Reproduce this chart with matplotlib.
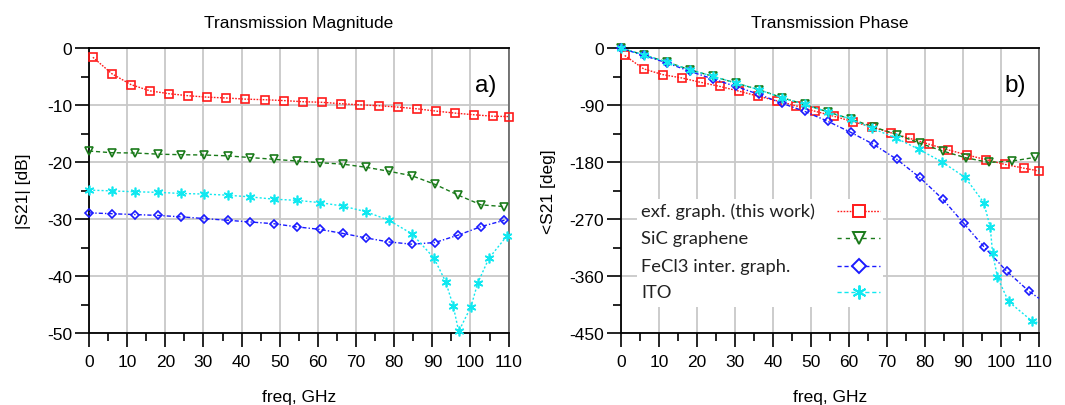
import numpy as np
import matplotlib
matplotlib.use("Agg")
import matplotlib.pyplot as plt
from matplotlib.ticker import MultipleLocator
from matplotlib.patches import Rectangle

plt.rcParams['font.family'] = ['Liberation Sans', 'DejaVu Sans']
plt.rcParams['axes.unicode_minus'] = False

# --- data ---
# exf. graph. (red)
f_red = [1, 6, 11, 16, 21, 26, 31, 36, 41, 46, 51, 56, 61, 66, 71, 76, 81, 86, 91, 96, 101, 106, 110]
mag_red = [-1.6, -4.5, -6.4, -7.5, -8.0, -8.35, -8.6, -8.75, -8.95, -9.05, -9.2, -9.4,
           -9.5, -9.75, -9.95, -10.1, -10.35, -10.65, -11.05, -11.4, -11.7, -11.95, -12.0]
ph_red = [-11.6, -32.8, -41.8, -47.1, -54, -60.4, -67.8, -75.7, -83.1, -91, -99.5, -107.5,
          -116, -124.5, -133.5, -142.5, -151.5, -160.5, -168.5, -176, -183.5, -189.5, -194]

# SiC graphene (green)
f_grn = [0, 6, 12.1, 18.1, 24.2, 30.2, 36.3, 42.3, 48.4, 54.4, 60.5, 66.5, 72.6, 78.6, 84.7, 90.7, 96.8, 102.8, 108.9]
mag_grn = [-18.05, -18.35, -18.4, -18.6, -18.7, -18.75, -18.9, -19.2, -19.5, -19.8, -20.1,
           -20.35, -20.9, -21.6, -22.4, -23.9, -25.8, -27.5, -27.8]
ph_grn = [0, -10.6, -22, -34, -44.5, -55, -65.6, -78, -89, -100.6, -112, -124.4, -136.5,
          -150, -162.5, -173, -180.5, -178.5, -172.5]

# FeCl3 inter. graph. (blue)
f_blu = [0, 6, 12.1, 18.1, 24.2, 30.2, 36.3, 42.3, 48.4, 54.4, 60.5, 66.5, 72.6, 78.6, 84.7, 90.7, 96.8, 102.8, 108.9]
mag_blu = [-28.9, -29.05, -29.2, -29.35, -29.6, -29.9, -30.2, -30.5, -30.8, -31.35, -31.8,
           -32.5, -33.3, -34.0, -34.4, -34.1, -32.8, -31.3, -30.2]
f_blu_ph = [0, 6, 12.1, 18.1, 24.2, 30.2, 36.3, 42.3, 48.4, 54.4, 60.5, 66.5, 72.6, 78.6, 84.7, 90.2, 95.5, 101.5, 107.4, 110]
ph_blu = [0, -11.6, -23.3, -36.5, -48.7, -60.4, -73, -86.8, -100, -115.4, -133, -152,
          -175.5, -204, -238.5, -276.5, -313.5, -352, -384, -395]

# ITO (cyan)
f_ito = [0, 6, 12.1, 18.1, 24.2, 30.2, 36.3, 42.3, 48.4, 54.4, 60.5, 66.5, 72.6, 78.6, 84.7,
         90.4, 93.5, 95.5, 96.9, 100.1, 101.9, 104.8, 109.6]
mag_ito = [-24.9, -25.05, -25.2, -25.3, -25.5, -25.6, -25.8, -26.1, -26.5, -26.7, -27.1,
           -27.7, -28.7, -30.2, -32.6, -36.8, -41.0, -45.3, -49.7, -45.4, -41.2, -36.9, -32.9]
f_ito_ph = [0, 6, 12.1, 18.1, 24.2, 30.2, 36.3, 42.3, 48.4, 54.4, 60.5, 66, 72.4, 78.5, 84.6,
            90.6, 95.5, 97.2, 97.8, 99.1, 102, 108.1, 110]
ph_ito = [0, -10.6, -22, -34, -44.5, -55, -65.6, -78, -89, -100.6, -112, -126.3, -142, -160,
          -180, -204.2, -244, -283, -323, -362, -400, -430.5, -434]

labels = ["exf. graph. (this work)", "SiC graphene", "FeCl3 inter. graph.", "ITO"]
colors = ["#ff1a1a", "#1a7a1a", "#1a1aff", "#10e8f0"]
markers = ["s", "v", "D", (6, 2, 0)]
msizes = [5.3, 5.5, 3.8, 7]          # markers on the curves
leg_msizes = [8.5, 8.5, 7, 10]     # markers in the legend
styles = [(0, (1.2, 1.0)), (0, (3, 2)), (0, (3, 1.5, 1, 1.5)), (0, (1.5, 1.5))]
leg_styles = [(0, (1.2, 1.0)), (0, (3, 3)), (0, (3, 2)), (0, (3, 2))]

fig = plt.figure(figsize=(10.65, 4.06), dpi=100)
ax1 = fig.add_axes([0.0836, 0.177, 0.394, 0.702])
ax2 = fig.add_axes([0.583, 0.177, 0.3925, 0.702])

FS = 12.5


def style_axes(ax, ymin, ystep, title, ylabel, ylab_x, tag):
    ax.set_xlim(0, 110)
    ax.set_ylim(ymin, 0)
    ax.xaxis.set_major_locator(MultipleLocator(10))
    ax.xaxis.set_minor_locator(MultipleLocator(5))
    ax.yaxis.set_major_locator(MultipleLocator(ystep))
    ax.yaxis.set_minor_locator(MultipleLocator(ystep / 2))
    ax.grid(True, which='major', color='#c8c8c8', lw=1.3, zorder=0)
    ax.set_axisbelow(True)
    ax.tick_params(which='major', direction='out', length=10, width=1.2, labelsize=FS, pad=2)
    ax.tick_params(axis='x', which='major', pad=5)
    ax.tick_params(which='minor', direction='out', length=6, width=1.2)
    ax.tick_params(top=False, right=False, which='both')
    for s in ['left', 'bottom', 'top']:
        ax.spines[s].set_color('black')
        ax.spines[s].set_linewidth(1.3)
    ax.spines['right'].set_color('#606060')
    ax.spines['right'].set_linewidth(1.2)
    ax.set_title(title, fontsize=FS, pad=15)
    ax.set_xlabel("freq, GHz", fontsize=FS)
    ax.xaxis.set_label_coords(0.5, -0.195)
    ax.set_ylabel(ylabel, fontsize=FS)
    ax.yaxis.set_label_coords(ylab_x, 0.5)
    ax.text(0.97, 0.87, tag, transform=ax.transAxes, ha='right', va='center', fontsize=17.5)


# magnitude
mag_sets = [(f_red, mag_red), (f_grn, mag_grn), (f_blu, mag_blu), (f_ito, mag_ito)]
for (x, y), c, m, ms, ls in zip(mag_sets, colors, markers, msizes, styles):
    ax1.plot(x, y, color=c, ls=ls, lw=1, marker=m, ms=ms, mfc='none', mec=c, mew=1.2,
             clip_on=False, zorder=3)

# phase
ph_sets = [(f_red, ph_red), (f_grn, ph_grn), (f_blu_ph, ph_blu), (f_ito_ph, ph_ito)]
for (x, y), c, m, ms, ls, lab in zip(ph_sets, colors, markers, msizes, styles, labels):
    n = len(x)
    every = list(range(n - 1)) if x[-1] == 110 and lab != labels[0] else list(range(n))
    ax2.plot(x, y, color=c, ls=ls, lw=1, marker=m, ms=ms, mfc='none', mec=c, mew=1.2,
             markevery=every, clip_on=False, zorder=3)

style_axes(ax1, -50, 10, "Transmission Magnitude", "|S21| [dB]", -0.138, "a)")
style_axes(ax2, -450, 90, "Transmission Phase", "<S21 [deg]", -0.155, "b)")

# legend: text on the left, sample on the right (drawn in axes coordinates)
ax2.add_patch(Rectangle((0.038, 0.091), 0.589, 0.379, transform=ax2.transAxes,
                        facecolor='white', edgecolor='none', zorder=4))
leg_y = [0.429, 0.333, 0.236, 0.143]
for yy, lab, c, m, lms, ls in zip(leg_y, labels, colors, markers, leg_msizes, leg_styles):
    ax2.text(0.049, yy, lab, transform=ax2.transAxes, ha='left', va='center',
             fontsize=13.2, family=['Lato', 'DejaVu Sans'], color='#222222', zorder=5)
    ax2.plot([0.516, 0.570, 0.62], [yy, yy, yy], transform=ax2.transAxes, color=c, ls=ls,
             lw=1, marker=m, ms=lms, mfc='white', mec=c, mew=1.4, markevery=[1],
             clip_on=False, zorder=5)

fig.savefig("out.png", dpi=100)
